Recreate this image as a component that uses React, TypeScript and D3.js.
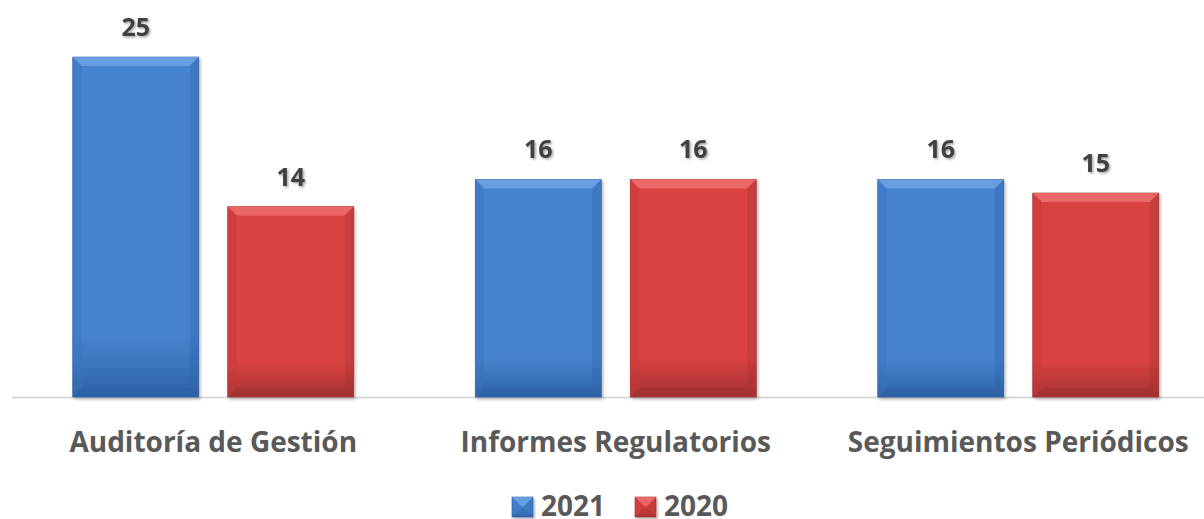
import React from "react";
import * as d3 from "d3";

const categories = ["Auditoría de Gestión", "Informes Regulatorios", "Seguimientos Periódicos"];
const seriesNames = ["2021", "2020"];
const values2021 = [25, 16, 16];
const values2020 = [14, 16, 15];

const W = 1204;
const H = 519;
const FONT = "'Open Sans', sans-serif";

const palettes = [
  { light: "#6fa6e6", main: "#4784cf", dark: "#2e62a6", side: "#3a73bd", edge: "#2a5a9a" },
  { light: "#ef7070", main: "#d94242", dark: "#a43232", side: "#c83a3a", edge: "#9a2c2c" },
];

function Bar({ x, y, w, h, p, id }: any) {
  const b = Math.min(9, h / 2, w / 2);
  return (
    <g filter="url(#shadow)">
      <rect x={x} y={y} width={w} height={h} fill={`url(#grad${id})`} stroke={p.edge} strokeWidth={0.6} />
      <polygon points={`${x},${y} ${x + w},${y} ${x + w - b},${y + b} ${x + b},${y + b}`} fill={p.light} opacity={0.8} />
      <polygon points={`${x},${y} ${x + b},${y + b} ${x + b},${y + h - b} ${x},${y + h}`} fill={p.side} opacity={0.45} />
      <polygon points={`${x + w},${y} ${x + w - b},${y + b} ${x + w - b},${y + h - b} ${x + w},${y + h}`} fill={p.dark} opacity={0.35} />
      <polygon points={`${x},${y + h} ${x + b},${y + h - b} ${x + w - b},${y + h - b} ${x + w},${y + h}`} fill={p.dark} opacity={0.6} />
    </g>
  );
}

export default function App() {
  const axisY = 397;
  const x0 = d3.scaleBand<string>().domain(categories).range([12, 1219.5]).paddingInner(0).paddingOuter(0);
  const x1 = d3.scaleBand<string>().domain(seriesNames).range([0, x0.bandwidth()]).paddingInner(0.187).paddingOuter(0.392);
  const y = d3.scaleLinear().domain([0, 25]).range([axisY, 57]);
  const series = [values2021, values2020];

  return (
    <svg width={W} height={H} style={{ position: "absolute", left: 0, top: 0, display: "block" }}>
      <defs>
        {palettes.map((p, i) => (
          <linearGradient key={i} id={`grad${i}`} x1="0" y1="0" x2="0" y2="1">
            <stop offset="0%" stopColor={p.main} />
            <stop offset="82%" stopColor={p.main} />
            <stop offset="100%" stopColor={p.dark} />
          </linearGradient>
        ))}
        <filter id="shadow" x="-10%" y="-10%" width="120%" height="120%">
          <feDropShadow dx="1.5" dy="2" stdDeviation="1.5" floodColor="#000" floodOpacity="0.3" />
        </filter>
        <filter id="tshadow" x="-20%" y="-20%" width="140%" height="140%">
          <feDropShadow dx="1.5" dy="1.5" stdDeviation="1" floodColor="#000" floodOpacity="0.35" />
        </filter>
      </defs>
      <rect x={0} y={0} width={W} height={H} fill="#fff" />
      <line x1={12} x2={W} y1={axisY + 0.5} y2={axisY + 0.5} stroke="#d0d0d0" strokeWidth={1.5} />
      {categories.map((c, ci) => (
        <g key={c}>
          {seriesNames.map((s, si) => {
            const v = series[si][ci];
            const bx = (x0(c) as number) + (x1(s) as number);
            const bw = x1.bandwidth();
            const by = y(v);
            return (
              <g key={s}>
                <Bar x={bx} y={by} w={bw} h={axisY - by} p={palettes[si]} id={si} />
                <text x={bx + bw / 2} y={by - 21} textAnchor="middle" fontFamily={FONT} fontWeight={700} fontSize={25} fill="#404040" filter="url(#tshadow)">
                  {v}
                </text>
              </g>
            );
          })}
          <text x={(x0(c) as number) + x0.bandwidth() / 2} y={452} textAnchor="middle" fontFamily={FONT} fontWeight={700} fontSize={28} fill="#595959">
            {c}
          </text>
        </g>
      ))}
      {seriesNames.map((s, si) => {
        const lx = [512, 635][si];
        return (
          <g key={s}>
            <Bar x={lx} y={497} w={21} h={20} p={palettes[si]} id={si} />
            <text x={lx + 29} y={516} fontFamily={FONT} fontWeight={700} fontSize={28} fill="#595959">
              {s}
            </text>
          </g>
        );
      })}
    </svg>
  );
}
